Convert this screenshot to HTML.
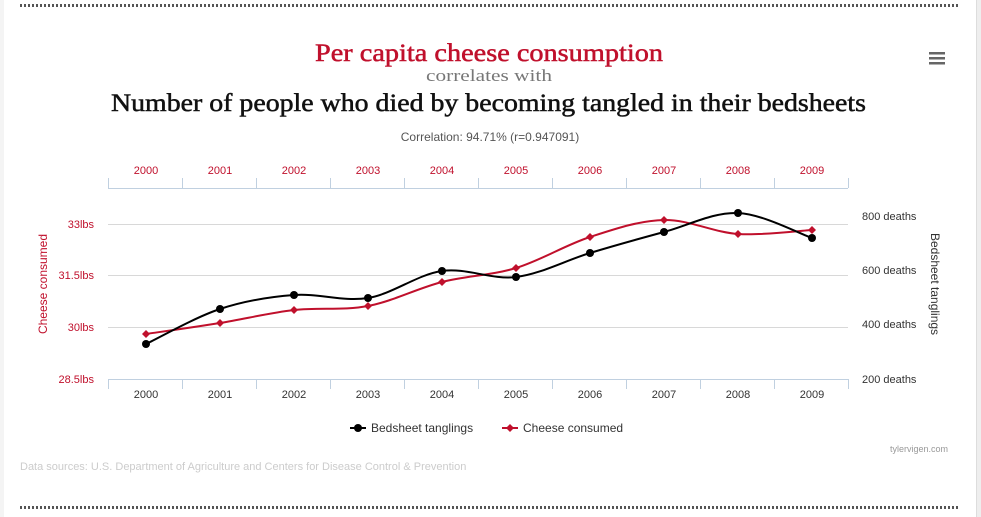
<!DOCTYPE html>
<html><head><meta charset="utf-8"><style>
html,body{margin:0;padding:0;background:#fff;}
body{width:981px;height:517px;overflow:hidden;position:relative;font-family:"Liberation Sans",sans-serif;}
</style></head><body>
<div style="position:absolute;left:0;top:0;width:4px;height:517px;background:#f4f4f4"></div>
<div style="position:absolute;right:0;top:0;width:4px;height:517px;background:#eee;border-left:1px solid #ddd"></div>
<svg id="s" width="981" height="517" style="position:absolute;left:0;top:0" xmlns="http://www.w3.org/2000/svg">
<line x1="20" y1="5.5" x2="958" y2="5.5" stroke="#555" stroke-width="3" stroke-dasharray="2,2"/>
<line x1="20" y1="507.5" x2="958" y2="507.5" stroke="#555" stroke-width="3" stroke-dasharray="2,2"/>
<text x="315" y="61" textLength="348" lengthAdjust="spacingAndGlyphs" font-family="Liberation Serif,serif" font-size="25" fill="#c0102c" stroke="#c0102c" stroke-width="0.5">Per capita cheese consumption</text>
<text x="426" y="81" textLength="126" lengthAdjust="spacingAndGlyphs" font-family="Liberation Serif,serif" font-size="17" fill="#777">correlates with</text>
<text x="111" y="111" textLength="755" lengthAdjust="spacingAndGlyphs" font-family="Liberation Serif,serif" font-size="25" fill="#111" stroke="#111" stroke-width="0.5">Number of people who died by becoming tangled in their bedsheets</text>
<text x="490" y="141" text-anchor="middle" font-size="12" fill="#555">Correlation: 94.71% (r=0.947091)</text>
<g fill="#666"><rect x="929" y="52" width="16" height="2.5"/><rect x="929" y="57" width="16" height="2.5"/><rect x="929" y="62" width="16" height="2.5"/></g>
<g stroke="#d8d8d8" stroke-width="1">
<line x1="108" y1="224.5" x2="848" y2="224.5"/><line x1="108" y1="275.5" x2="848" y2="275.5"/><line x1="108" y1="327.5" x2="848" y2="327.5"/>
</g>
<g id="ax" stroke="#c0d0e0" stroke-width="1"></g>
<g id="lab" font-size="11"></g>
<g font-size="11" fill="#c0102c" text-anchor="end">
<text x="94" y="228">33lbs</text><text x="94" y="279">31.5lbs</text><text x="94" y="331">30lbs</text><text x="94" y="383">28.5lbs</text>
</g>
<g font-size="11" fill="#333">
<text x="862" y="220">800 deaths</text><text x="862" y="274">600 deaths</text><text x="862" y="328">400 deaths</text><text x="862" y="383">200 deaths</text>
</g>
<text transform="translate(47,284) rotate(-90)" text-anchor="middle" font-size="12" fill="#c0102c">Cheese consumed</text>
<text transform="translate(931,284) rotate(90)" text-anchor="middle" font-size="12" fill="#333">Bedsheet tanglings</text>
<path id="pr" fill="none" stroke="#c0102c" stroke-width="2"/>
<path id="pb" fill="none" stroke="#000" stroke-width="2"/>
<g id="mk"></g>
<line x1="350" y1="428" x2="366" y2="428" stroke="#000" stroke-width="2"/><circle cx="358" cy="428" r="4"/>
<text x="371" y="432" font-size="12" fill="#333">Bedsheet tanglings</text>
<line x1="502" y1="428" x2="518" y2="428" stroke="#c0102c" stroke-width="2"/><path d="M510 424 L514 428 L510 432 L506 428Z" fill="#c0102c"/>
<text x="523" y="432" font-size="12" fill="#333">Cheese consumed</text>
<text x="948" y="452" text-anchor="end" font-size="9" fill="#999">tylervigen.com</text>
<text x="20" y="470" font-size="11" fill="#ccc">Data sources: U.S. Department of Agriculture and Centers for Disease Control &amp; Prevention</text>
</svg>
<script>
var NS="http://www.w3.org/2000/svg";
function el(p,t,a,txt){var e=document.createElementNS(NS,t);for(var k in a)e.setAttribute(k,a[k]);if(txt)e.textContent=txt;document.getElementById(p).appendChild(e);}
el("ax","line",{x1:108,y1:188.5,x2:848,y2:188.5});el("ax","line",{x1:108,y1:379.5,x2:848,y2:379.5});
for(var i=0;i<=10;i++){var x=108.5+i*74;el("ax","line",{x1:x,y1:178,x2:x,y2:188});el("ax","line",{x1:x,y1:379,x2:x,y2:389});}
for(var i=0;i<10;i++){var x=146+i*74;el("lab","text",{x:x,y:174,"text-anchor":"middle",fill:"#c0102c"},""+(2000+i));el("lab","text",{x:x,y:398,"text-anchor":"middle",fill:"#333"},""+(2000+i));}
var xs=[];for(var i=0;i<10;i++)xs.push(146+i*74);
var b=[344,309,295,298,271,277,253,232,213,238],r=[334,323,310,306,282,268,237,220,234,230];
function path(y){var d="M"+xs[0]+" "+y[0];for(var i=0;i<9;i++){var p0=i?i-1:i,p3=i+2<10?i+2:i+1;
var c1x=xs[i]+(xs[i+1]-xs[p0])/6,c1y=y[i]+(y[i+1]-y[p0])/6,c2x=xs[i+1]-(xs[p3]-xs[i])/6,c2y=y[i+1]-(y[p3]-y[i])/6;
d+=" C"+c1x+" "+c1y+" "+c2x+" "+c2y+" "+xs[i+1]+" "+y[i+1];}return d;}
document.getElementById("pr").setAttribute("d",path(r));document.getElementById("pb").setAttribute("d",path(b));
for(var i=0;i<10;i++){el("mk","path",{d:"M"+xs[i]+" "+(r[i]-4)+" l4 4 l-4 4 l-4 -4Z",fill:"#c0102c"});el("mk","circle",{cx:xs[i],cy:b[i],r:4,fill:"#000"});}
</script>
</body></html>
